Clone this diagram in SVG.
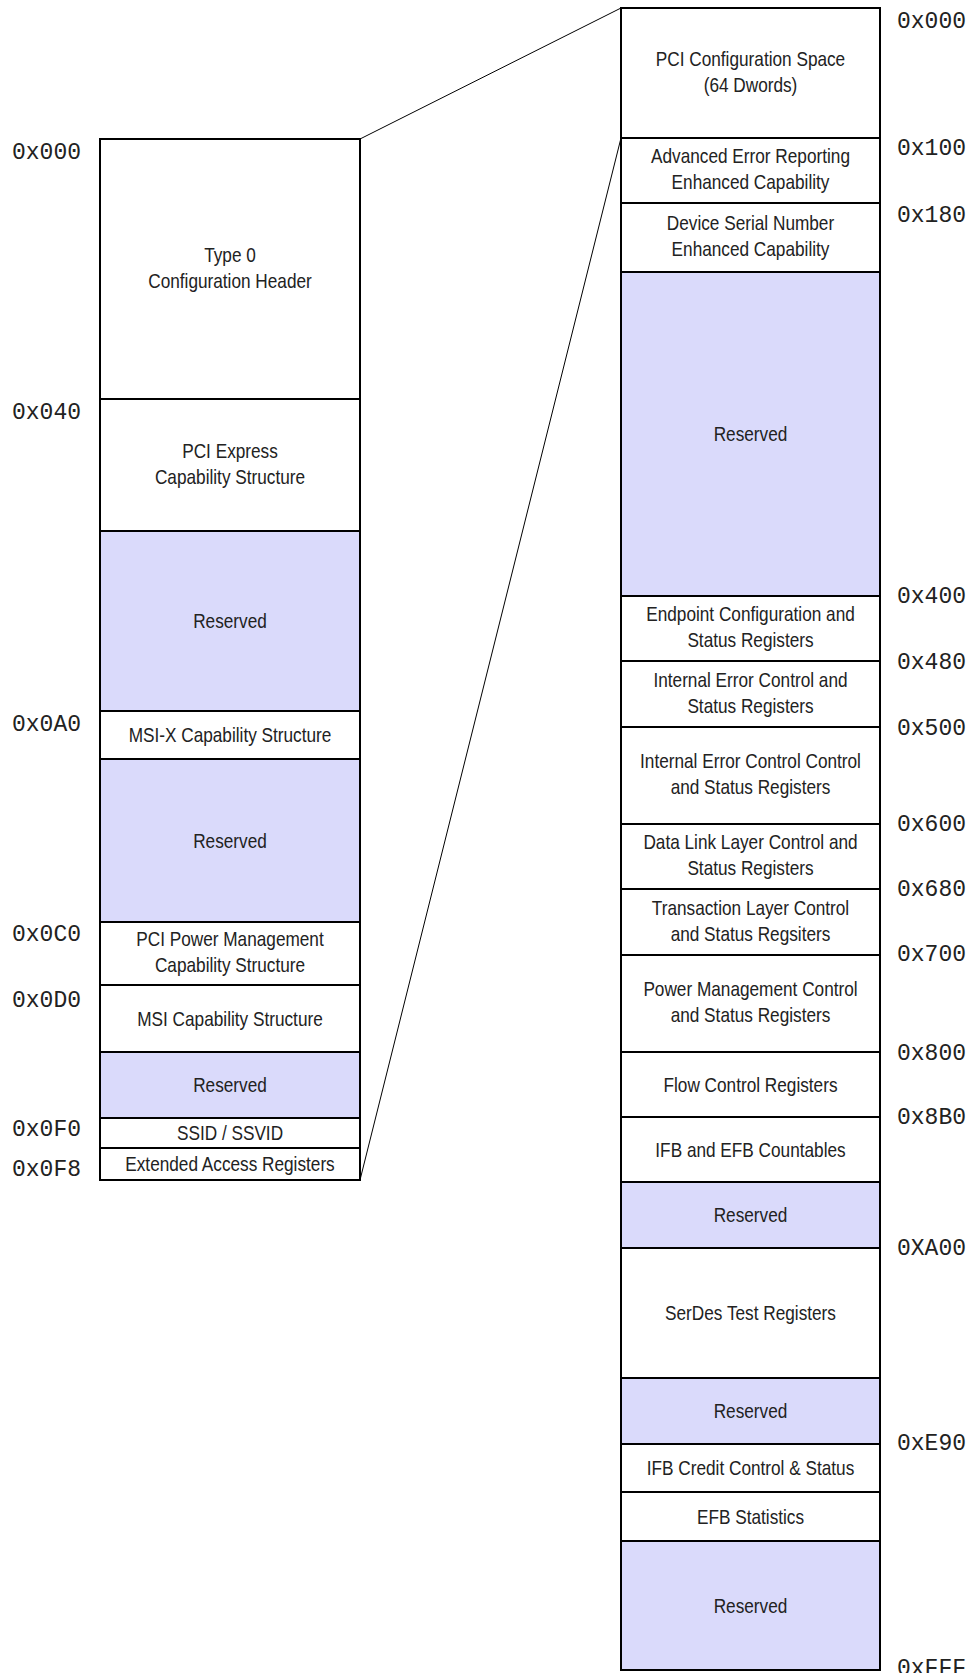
<svg xmlns="http://www.w3.org/2000/svg" width="972" height="1673" viewBox="0 0 972 1673">
<style>
.b{fill:#ffffff;stroke:#000;stroke-width:2}
.r{fill:#dadafb;stroke:#000;stroke-width:2}
.t{font-family:"Liberation Sans",Arial,sans-serif;font-size:21px;fill:#222;text-anchor:middle}
.a{font-family:"Liberation Mono","Courier New",monospace;font-size:23px;fill:#222}
.c{stroke:#000;stroke-width:1;fill:none}
</style>
<rect width="972" height="1673" fill="#fff"/>
<g id="connectors">
<line class="c" x1="360" y1="139" x2="621" y2="8"/>
<line class="c" x1="360" y1="1180" x2="621" y2="138"/>
</g>
<g id="left">
<g id="l1"><rect class="b" x="100" y="139" width="260" height="260"/><g transform="translate(230 0) scale(0.82 1)"><text class="t" x="0" y="262">Type 0</text><text class="t" x="0" y="288">Configuration Header</text></g></g>
<g id="l2"><rect class="b" x="100" y="399" width="260" height="132"/><g transform="translate(230 0) scale(0.82 1)"><text class="t" x="0" y="458">PCI Express</text><text class="t" x="0" y="484">Capability Structure</text></g></g>
<g id="l3"><rect class="r" x="100" y="531" width="260" height="180"/><g transform="translate(230 0) scale(0.82 1)"><text class="t" x="0" y="628.5">Reserved</text></g></g>
<g id="l4"><rect class="b" x="100" y="711" width="260" height="48"/><g transform="translate(230 0) scale(0.82 1)"><text class="t" x="0" y="742.5">MSI-X Capability Structure</text></g></g>
<g id="l5"><rect class="r" x="100" y="759" width="260" height="163"/><g transform="translate(230 0) scale(0.82 1)"><text class="t" x="0" y="848">Reserved</text></g></g>
<g id="l6"><rect class="b" x="100" y="922" width="260" height="63"/><g transform="translate(230 0) scale(0.82 1)"><text class="t" x="0" y="946.5">PCI Power Management</text><text class="t" x="0" y="972.5">Capability Structure</text></g></g>
<g id="l7"><rect class="b" x="100" y="985" width="260" height="67"/><g transform="translate(230 0) scale(0.82 1)"><text class="t" x="0" y="1026">MSI Capability Structure</text></g></g>
<g id="l8"><rect class="r" x="100" y="1052" width="260" height="66"/><g transform="translate(230 0) scale(0.82 1)"><text class="t" x="0" y="1092.5">Reserved</text></g></g>
<g id="l9"><rect class="b" x="100" y="1118" width="260" height="30"/><g transform="translate(230 0) scale(0.82 1)"><text class="t" x="0" y="1140.5">SSID / SSVID</text></g></g>
<g id="l10"><rect class="b" x="100" y="1148" width="260" height="32"/><g transform="translate(230 0) scale(0.82 1)"><text class="t" x="0" y="1171.5">Extended Access Registers</text></g></g>
</g>
<g id="left-addr">
<text class="a" x="12" y="159">0x000</text>
<text class="a" x="12" y="419">0x040</text>
<text class="a" x="12" y="731">0x0A0</text>
<text class="a" x="12" y="941">0x0C0</text>
<text class="a" x="12" y="1007">0x0D0</text>
<text class="a" x="12" y="1136">0x0F0</text>
<text class="a" x="12" y="1176">0x0F8</text>
</g>
<g id="right">
<g id="r1"><rect class="b" x="621" y="8" width="259" height="130"/><g transform="translate(750.5 0) scale(0.82 1)"><text class="t" x="0" y="66">PCI Configuration Space</text><text class="t" x="0" y="92">(64 Dwords)</text></g></g>
<g id="r2"><rect class="b" x="621" y="138" width="259" height="65"/><g transform="translate(750.5 0) scale(0.82 1)"><text class="t" x="0" y="163.5">Advanced Error Reporting</text><text class="t" x="0" y="189.5">Enhanced Capability</text></g></g>
<g id="r3"><rect class="b" x="621" y="203" width="259" height="69"/><g transform="translate(750.5 0) scale(0.82 1)"><text class="t" x="0" y="230.5">Device Serial Number</text><text class="t" x="0" y="256.5">Enhanced Capability</text></g></g>
<g id="r4"><rect class="r" x="621" y="272" width="259" height="324"/><g transform="translate(750.5 0) scale(0.82 1)"><text class="t" x="0" y="441.5">Reserved</text></g></g>
<g id="r5"><rect class="b" x="621" y="596" width="259" height="65"/><g transform="translate(750.5 0) scale(0.82 1)"><text class="t" x="0" y="621.5">Endpoint Configuration and</text><text class="t" x="0" y="647.5">Status Registers</text></g></g>
<g id="r6"><rect class="b" x="621" y="661" width="259" height="66"/><g transform="translate(750.5 0) scale(0.82 1)"><text class="t" x="0" y="687">Internal Error Control and</text><text class="t" x="0" y="713">Status Registers</text></g></g>
<g id="r7"><rect class="b" x="621" y="727" width="259" height="97"/><g transform="translate(750.5 0) scale(0.82 1)"><text class="t" x="0" y="768.5">Internal Error Control Control</text><text class="t" x="0" y="794.5">and Status Registers</text></g></g>
<g id="r8"><rect class="b" x="621" y="824" width="259" height="65"/><g transform="translate(750.5 0) scale(0.82 1)"><text class="t" x="0" y="849.5">Data Link Layer Control and</text><text class="t" x="0" y="875.5">Status Registers</text></g></g>
<g id="r9"><rect class="b" x="621" y="889" width="259" height="66"/><g transform="translate(750.5 0) scale(0.82 1)"><text class="t" x="0" y="915">Transaction Layer Control</text><text class="t" x="0" y="941">and Status Regsiters</text></g></g>
<g id="r10"><rect class="b" x="621" y="955" width="259" height="97"/><g transform="translate(750.5 0) scale(0.82 1)"><text class="t" x="0" y="996.5">Power Management Control</text><text class="t" x="0" y="1022.5">and Status Registers</text></g></g>
<g id="r11"><rect class="b" x="621" y="1052" width="259" height="65"/><g transform="translate(750.5 0) scale(0.82 1)"><text class="t" x="0" y="1092">Flow Control Registers</text></g></g>
<g id="r12"><rect class="b" x="621" y="1117" width="259" height="65"/><g transform="translate(750.5 0) scale(0.82 1)"><text class="t" x="0" y="1157">IFB and EFB Countables</text></g></g>
<g id="r13"><rect class="r" x="621" y="1182" width="259" height="66"/><g transform="translate(750.5 0) scale(0.82 1)"><text class="t" x="0" y="1222.5">Reserved</text></g></g>
<g id="r14"><rect class="b" x="621" y="1248" width="259" height="130"/><g transform="translate(750.5 0) scale(0.82 1)"><text class="t" x="0" y="1320.5">SerDes Test Registers</text></g></g>
<g id="r15"><rect class="r" x="621" y="1378" width="259" height="66"/><g transform="translate(750.5 0) scale(0.82 1)"><text class="t" x="0" y="1418.5">Reserved</text></g></g>
<g id="r16"><rect class="b" x="621" y="1444" width="259" height="48"/><g transform="translate(750.5 0) scale(0.82 1)"><text class="t" x="0" y="1475.5">IFB Credit Control &amp; Status</text></g></g>
<g id="r17"><rect class="b" x="621" y="1492" width="259" height="49"/><g transform="translate(750.5 0) scale(0.82 1)"><text class="t" x="0" y="1524">EFB Statistics</text></g></g>
<g id="r18"><rect class="r" x="621" y="1541" width="259" height="129"/><g transform="translate(750.5 0) scale(0.82 1)"><text class="t" x="0" y="1613">Reserved</text></g></g>
</g>
<g id="right-addr">
<text class="a" x="897" y="28">0x000</text>
<text class="a" x="897" y="155">0x100</text>
<text class="a" x="897" y="222">0x180</text>
<text class="a" x="897" y="603">0x400</text>
<text class="a" x="897" y="669">0x480</text>
<text class="a" x="897" y="735">0x500</text>
<text class="a" x="897" y="831">0x600</text>
<text class="a" x="897" y="896">0x680</text>
<text class="a" x="897" y="961">0x700</text>
<text class="a" x="897" y="1060">0x800</text>
<text class="a" x="897" y="1124">0x8B0</text>
<text class="a" x="897" y="1255">0XA00</text>
<text class="a" x="897" y="1450">0xE90</text>
<text class="a" x="897" y="1675">0xFFF</text>
</g>
</svg>
